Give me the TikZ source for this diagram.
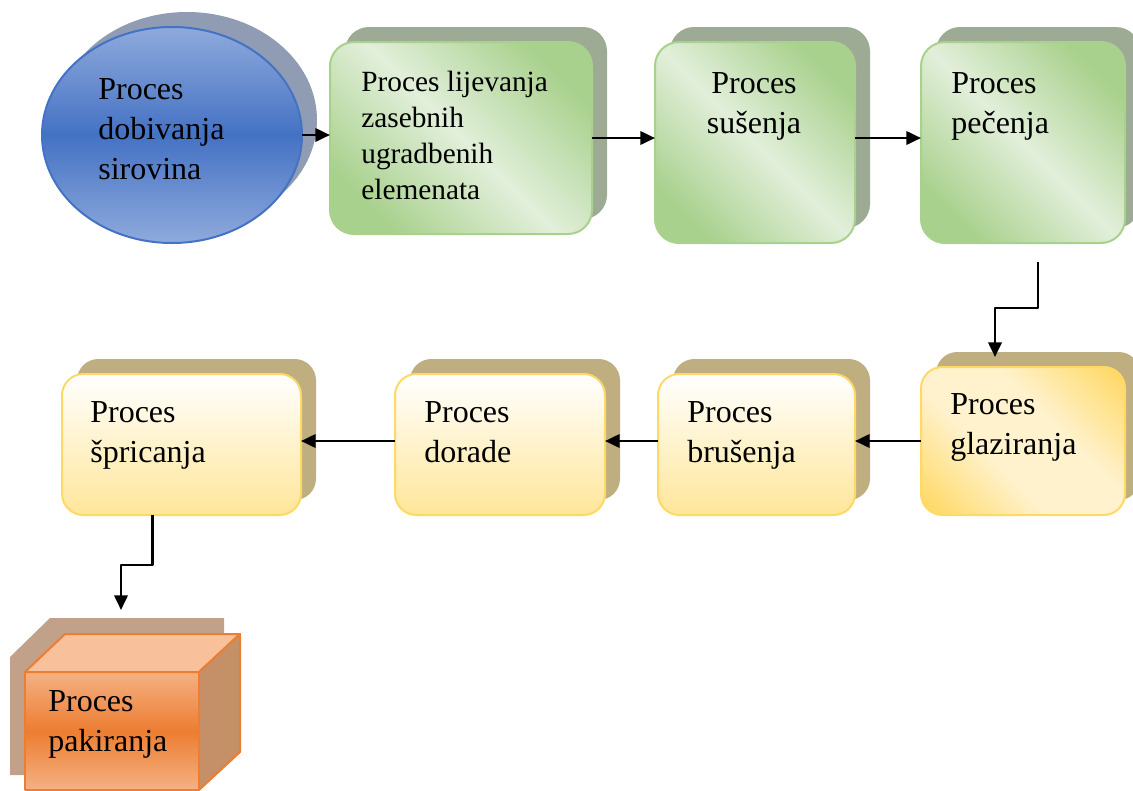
\documentclass[tikz,border=0pt]{standalone}
\usepackage{fontspec}
\setmainfont{Liberation Serif}
\usetikzlibrary{arrows.meta,positioning,shapes.geometric,shadows}

\definecolor{blueD}{HTML}{4472C4}
\definecolor{blueL}{HTML}{8FAADC}
\definecolor{blueSh}{HTML}{8F9CB3}
\definecolor{greenD}{HTML}{A9D18E}
\definecolor{greenL}{HTML}{E2EFDA}
\definecolor{greenSh}{HTML}{9DAA94}
\definecolor{yelD}{HTML}{FFD966}
\definecolor{yelM}{HTML}{FFE699}
\definecolor{yelL}{HTML}{FFF2CC}
\definecolor{yelSh}{HTML}{BFAE7F}
\definecolor{orD}{HTML}{ED7D31}
\definecolor{orL}{HTML}{F4B183}
\definecolor{orTop}{HTML}{F8C09B}
\definecolor{orSide}{HTML}{C58F68}
\definecolor{orSh}{HTML}{C1A189}

\pgfdeclareverticalshading{bluemid}{100bp}{color(0bp)=(blueL); color(25bp)=(blueL); color(50bp)=(blueD); color(75bp)=(blueL); color(100bp)=(blueL)}
\pgfdeclareverticalshading{greendiag}{100bp}{color(0bp)=(greenD); color(25bp)=(greenD); color(50bp)=(greenL); color(75bp)=(greenD); color(100bp)=(greenD)}
\pgfdeclareverticalshading{yellowdiag}{100bp}{color(0bp)=(yelD); color(17bp)=(yelD); color(40bp)=(yelL); color(60bp)=(yelL); color(83bp)=(yelD); color(100bp)=(yelD)}
\pgfdeclareverticalshading{orangemid}{100bp}{color(0bp)=(orL); color(25bp)=(orL); color(50bp)=(orD); color(75bp)=(orL); color(100bp)=(orL)}

\tikzset{
    %Define standard arrow tip
    >={Triangle[length=11pt,width=10pt]},
    %Define style for the round start
    blob/.style={
           ellipse,
           draw=blueD, line width=1.5pt,
           shade, shading=bluemid,
           minimum width=195pt,
           minimum height=162pt,
           inner sep=0pt, outer sep=0pt,
           copy shadow={shadow xshift=11.25pt, shadow yshift=11.25pt, fill=blueSh, draw=none}},
    %Define style for boxes
    greenbox/.style={
           rectangle,
           rounded corners=18pt,
           draw=greenD, line width=1.5pt,
           shade, shading=greendiag, shading angle=-45,
           inner sep=0pt, outer sep=0pt,
           copy shadow={shadow xshift=11.25pt, shadow yshift=11.25pt, fill=greenSh, draw=none}},
    yellowbox/.style={
           rectangle,
           rounded corners=16pt,
           draw=yelD, line width=1.5pt,
           top color=white, bottom color=yelM,
           inner sep=0pt, outer sep=0pt,
           copy shadow={shadow xshift=11.25pt, shadow yshift=11.25pt, fill=yelSh, draw=none}},
    glazebox/.style={
           yellowbox,
           shading=yellowdiag, shading angle=-45},
    packfront/.style={
           rectangle,
           draw=orD, line width=1.5pt,
           shade, shading=orangemid,
           inner sep=0pt, outer sep=0pt},
    packface/.style={
           draw=orD, line width=1.5pt},
    %Define style for texts
    txt/.style={
           font=\fontsize{24}{30}\selectfont,
           align=left,
           anchor=north west,
           inner sep=0pt}
}

\begin{document}
\begin{tikzpicture}[x=0.75pt,y=-0.75pt,->,line width=2pt,line join=round]

\useasboundingbox (0,0) rectangle (1133,790);

 %nodes
\node[blob](src) at (172,135){};
\node[greenbox, minimum width=196.5pt, minimum height=144pt](cast) at (461,138){};
\node[greenbox, minimum width=150pt, minimum height=150.75pt](dry) at (755,142.5){};
\node[greenbox, minimum width=153pt, minimum height=150.75pt](fire) at (1023,142.5){};
\node[glazebox, minimum width=153pt, minimum height=111pt](glaze) at (1023,441){};
\node[yellowbox, minimum width=147.75pt, minimum height=105.75pt](grind) at (756.5,444.5){};
\node[yellowbox, minimum width=157.5pt, minimum height=105.75pt](finish) at (500,444.5){};
\node[yellowbox, minimum width=179.25pt, minimum height=105.75pt](spray) at (181.5,444.5){};

 %packing box
\fill[orSh] (10,775) -- (10,657) -- (50,618) -- (224,618) -- (224,737) -- (184,775) -- cycle;
\node[packfront, minimum width=130.5pt, minimum height=88.5pt](pack) at (112,731){};
\filldraw[packface, fill=orTop] (pack.north west) -- ++(40,-38) -- ++(175,0) -- (pack.north east) -- cycle;
\filldraw[packface, fill=orSide] (pack.north east) -- ++(41,-38) -- ++(0,118) -- (pack.south east) -- cycle;

 %texts
\node[txt](srcT) at (97,77){Proces\\dobivanja\\sirovina};
\node[txt, font=\fontsize{22}{27}\selectfont](castT) at (360,70){Proces lijevanja\\zasebnih\\ugradbenih\\elemenata};
\node[txt, anchor=north, align=center](dryT) at (754,71){Proces\\sušenja};
\node[txt](fireT) at (950,71){Proces\\pečenja};
\node[txt](glazeT) at (949,392){Proces\\glaziranja};
\node[txt](grindT) at (686,400){Proces\\brušenja};
\node[txt](finishT) at (423,400){Proces\\dorade};
\node[txt](sprayT) at (89,400){Proces\\špricanja};
\node[txt](packT) at (47,689){Proces\\pakiranja};

 %arrows
\draw (src.east) -- (src.east -| cast.west);
\draw (cast.east) -- (cast.east -| dry.west);
\draw (cast.east -| dry.east) -- (cast.east -| fire.west);
\draw ([xshift=11.25pt,yshift=-14.25pt]fire.south) -- ++(0,46) -| ([xshift=-21pt,yshift=7.5pt]glaze.north);
\draw (glaze.west) -- (glaze.west -| grind.east);
\draw (grind.west |- glaze.west) -- (glaze.west -| finish.east);
\draw (finish.west |- glaze.west) -- (glaze.west -| spray.east);
\draw ([xshift=-22pt]spray.south) -- ++(0,50) -| ([xshift=6.75pt,yshift=46.5pt]pack.north);

\end{tikzpicture}
\end{document}
